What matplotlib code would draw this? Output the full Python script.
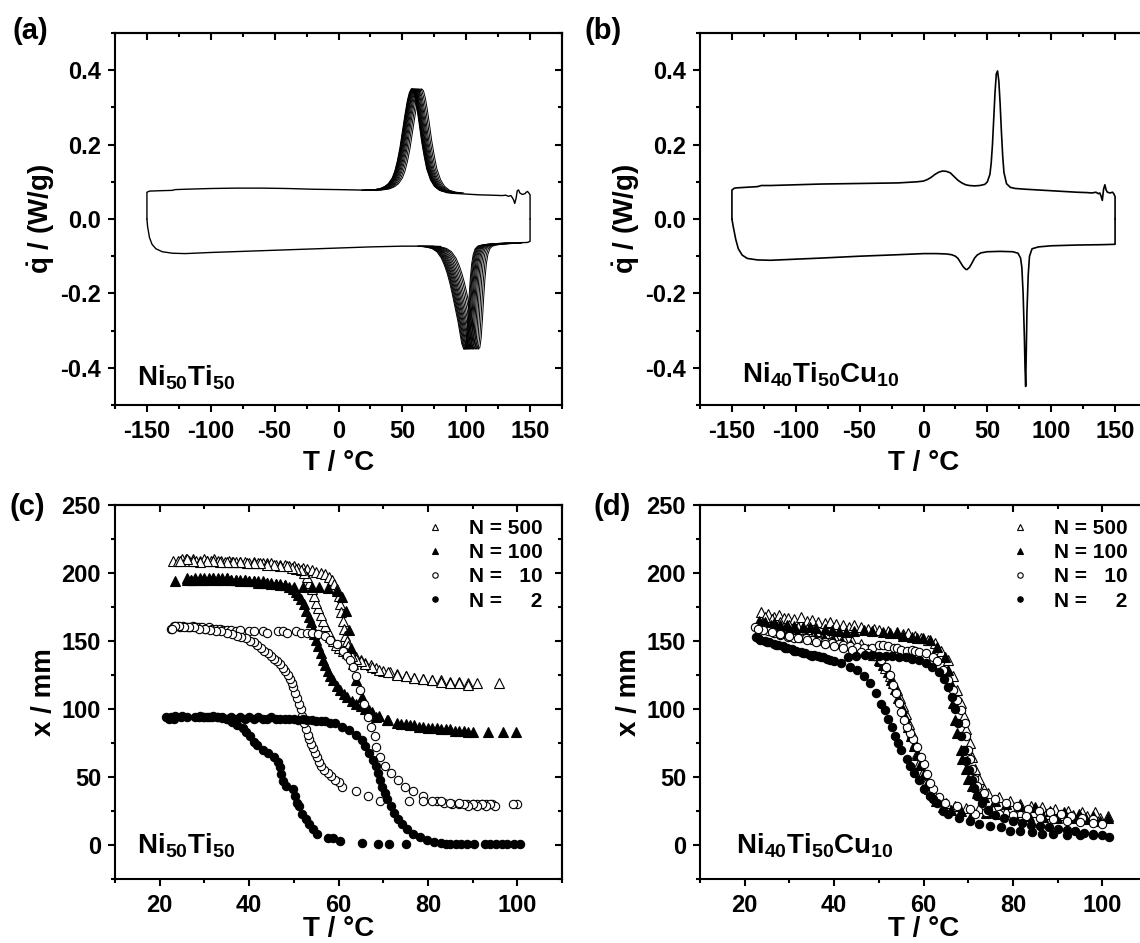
import matplotlib
matplotlib.use('Agg')
import matplotlib.pyplot as plt
from matplotlib.ticker import MultipleLocator, FormatStrFormatter
import numpy as np

plt.rcParams['font.family'] = ['Liberation Sans', 'DejaVu Sans']
plt.rcParams['font.weight'] = 'bold'
plt.rcParams['axes.unicode_minus'] = False
plt.rcParams['mathtext.fontset'] = 'custom'
plt.rcParams['mathtext.rm'] = 'Liberation Sans:bold'
plt.rcParams['mathtext.it'] = 'Liberation Sans:bold'
plt.rcParams['mathtext.bf'] = 'Liberation Sans:bold'

# ---------------- (a) DSC Ni50Ti50, many cycles ----------------
# upper branch (cooling), baseline pieces
a_topL_T = [-150, -150, -148, -140, -130, -128, -120, -100, -80, -60, -40, -20, 0, 15, 30]
a_topL_q = [0.0, 0.072, 0.075, 0.076, 0.077, 0.079, 0.080, 0.082, 0.083, 0.083, 0.082, 0.080, 0.079, 0.078, 0.077]
a_topR_T = [85, 90, 100, 110, 120, 128, 131, 133, 135, 136, 137, 138, 139, 140, 141, 142, 144, 146, 147, 148, 149, 150, 150]
a_topR_q = [0.071, 0.069, 0.067, 0.065, 0.064, 0.063, 0.064, 0.061, 0.063, 0.058, 0.052, 0.042, 0.055, 0.076,
            0.078, 0.070, 0.066, 0.068, 0.072, 0.074, 0.070, 0.065, 0.0]
# exothermic peak of the first cycle, and temperature offset of each later cycle
a_exo_T = [18, 26, 32, 36, 39, 42, 44, 46, 48, 50, 52, 54, 55.5, 57, 58.5, 60, 61.5, 63, 65, 67, 69, 72,
           75, 79, 84, 90]
a_exo_q = [0.077, 0.078, 0.081, 0.087, 0.095, 0.11, 0.128, 0.155, 0.19, 0.235, 0.28, 0.32, 0.34, 0.35,
           0.345, 0.325, 0.295, 0.26, 0.21, 0.17, 0.135, 0.105, 0.088, 0.077, 0.072, 0.070]
a_exo_shift = [0.0, 0.3, 0.6, 0.9, 1.3, 1.7, 2.2, 2.7, 3.3, 4.0, 4.8, 5.7, 6.8, 8.0]

# lower branch (heating), baseline pieces
a_botR_T = [150, 150, 148, 140, 130, 125]
a_botR_q = [0.0, -0.060, -0.063, -0.064, -0.065, -0.066]
a_botL_T = [80, 70, 50, 25, 0, -25, -50, -75, -100, -120, -130, -138, -143, -146, -148, -149.5, -150]
a_botL_q = [-0.074, -0.073, -0.073, -0.075, -0.078, -0.081, -0.084, -0.087, -0.090, -0.093, -0.092,
            -0.088, -0.080, -0.068, -0.050, -0.020, 0.0]
a_endo_T = [132, 124, 116, 112, 109, 107, 105.5, 104.3, 103.2, 102.2, 101.2, 100.2, 99.2, 98, 96.5, 95,
            93.5, 92, 90.5, 89, 87, 85, 83, 80.5, 77, 73, 68, 62]
a_endo_q = [-0.065, -0.066, -0.068, -0.070, -0.073, -0.08, -0.095, -0.12, -0.16, -0.21, -0.27, -0.32,
            -0.345, -0.35, -0.335, -0.305, -0.275, -0.25, -0.225, -0.2, -0.17, -0.145, -0.125, -0.105,
            -0.088, -0.079, -0.075, -0.073]
a_endo_shift = [0.0, 0.6, 1.2, 1.8, 2.5, 3.2, 4.0, 4.8, 5.7, 6.7, 7.8, 9.0, 10.3, 11.5]

# ---------------- (b) DSC Ni40Ti50Cu10 ----------------
b_top_T = [-150, -150, -148, -145, -140, -130, -127, -120, -100, -80, -60, -40, -20, -10, -5, 0, 3, 6, 9,
           12, 15, 18, 21, 24, 27, 30, 33, 36, 40, 44, 48, 50, 52, 53, 54, 55, 56, 57, 58, 59, 60, 61, 62,
           63, 65, 68, 72, 80, 90, 100, 110, 120, 128, 132, 135, 137, 138, 139, 140, 141, 142, 143, 144,
           146, 148, 149, 150, 150]
b_top_q = [0.0, 0.078, 0.083, 0.084, 0.085, 0.087, 0.090, 0.090, 0.092, 0.094, 0.095, 0.096, 0.097,
           0.099, 0.100, 0.102, 0.106, 0.112, 0.120, 0.126, 0.129, 0.128, 0.124, 0.114, 0.104, 0.097,
           0.092, 0.090, 0.089, 0.090, 0.093, 0.100, 0.120, 0.150, 0.200, 0.270, 0.340, 0.390, 0.398,
           0.370, 0.310, 0.235, 0.170, 0.125, 0.095, 0.085, 0.082, 0.080, 0.078, 0.076, 0.074, 0.072,
           0.071, 0.070, 0.072, 0.068, 0.070, 0.062, 0.050, 0.080, 0.092, 0.078, 0.072, 0.070, 0.072,
           0.068, 0.060, 0.0]
b_bot_T = [150, 150, 140, 120, 100, 90, 85, 83, 82, 81, 80.5, 80, 79.5, 79, 78, 77, 76, 74, 70, 60, 50,
           45, 42, 40, 38, 36, 34, 33, 31, 29, 27, 25, 22, 18, 10, 0, -20, -50, -80, -100, -120, -130,
           -138, -142, -145, -147, -149, -150]
b_bot_q = [0.0, -0.068, -0.069, -0.070, -0.072, -0.075, -0.080, -0.10, -0.15, -0.25, -0.35, -0.45, -0.40,
           -0.32, -0.20, -0.13, -0.105, -0.092, -0.088, -0.087, -0.088, -0.091, -0.097, -0.105, -0.118,
           -0.130, -0.136, -0.135, -0.128, -0.117, -0.106, -0.100, -0.096, -0.094, -0.093, -0.093,
           -0.096, -0.100, -0.105, -0.108, -0.111, -0.110, -0.106, -0.097, -0.080, -0.055, -0.020, 0.0]

# ---------------- (c) Ni50Ti50 displacement vs temperature ----------------
c500_T = [23, 24, 25, 25.8, 26.6, 27.4, 28.2, 29, 29.8, 30.6, 31.4, 32.2, 33, 33.8, 34.6, 35.4, 36.2, 37,
          38, 39, 40, 41, 42, 43, 44, 45, 46, 47, 48, 49, 50, 51, 52, 53, 54, 55, 56, 57, 57.8, 58.5,
          59.1, 59.6, 60, 60.3, 60.6, 60.9, 61.2, 61.5, 61.8, 62.2, 62.7, 63.3, 64, 65, 66, 67.2, 68.5,
          70, 71.5, 73, 75, 77, 79, 81, 83, 85, 87, 89, 91, 96,
          89, 87, 85, 83, 81, 79, 77, 75, 73, 71, 69, 67.5, 66, 65, 64, 63, 62, 61, 60.2, 59.5, 58.8,
          58.2, 57.6, 57, 56.5, 56, 55.5, 55, 54.5, 54, 53.5, 53, 52.3, 51.5, 50.5, 49.5, 48.5, 47,
          45.5, 44, 42.5, 41, 39.5, 38, 36.5, 35, 33.5, 32, 30.5, 29, 27.5, 26, 24.5]
c500_x = [209, 209, 210, 210, 209, 210, 209, 209, 210, 209, 209, 210, 209, 209, 208, 209, 208, 208,
          208, 208, 207, 208, 207, 207, 207, 207, 206, 206, 206, 205, 205, 204, 204, 203, 202, 201,
          200, 199, 197, 195, 192, 188, 183, 177, 171, 165, 159, 154, 150, 146, 143, 140, 138, 136,
          134, 132, 130, 128, 127, 126, 124, 123, 122, 121, 121, 120, 120, 119, 119, 119,
          118, 119, 119, 120, 121, 122, 123, 124, 125, 127, 129, 131, 133, 135, 137, 139, 141, 143,
          145, 147, 150, 153, 157, 161, 165, 169, 174, 178, 183, 188, 193, 197, 200, 202, 203, 204,
          205, 205, 206, 206, 207, 207, 207, 208, 208, 208, 208, 209, 209, 208, 209, 210, 209]
c100_T = [23.5, 26, 27, 28, 29, 30, 31, 32, 33, 34, 35, 36, 37, 38, 39, 40, 41, 42, 43, 44, 45, 46, 47,
          48, 50, 52, 54, 55.6, 57.6, 59.6, 60.8, 61.6, 62.4, 62.8, 63.2, 64, 65.2, 66.9, 68.5, 70.9,
          74, 76, 78, 80, 82, 84, 86, 88, 90, 93.5, 96.8, 99.7,
          89, 87, 85, 83, 81, 79, 77, 75, 73, 71, 69, 67.5, 66, 65, 64, 63, 62, 61.2, 60.4, 59.6, 58.8,
          58.2, 57.6, 57, 56.5, 56, 55.5, 55, 54.6, 54.2, 53.8, 53.3, 52.8, 52.3, 51.7, 51, 50.4, 49.8,
          49, 48, 47, 46, 45, 44, 43, 42, 41, 40, 39, 38, 37, 36, 35, 34, 33, 32, 31, 30, 29, 28, 27, 26]
c100_x = [194, 195, 195, 196, 195, 196, 195, 196, 195, 195, 196, 195, 195, 194, 195, 194, 194, 193,
          194, 193, 193, 192, 192, 191, 190, 190, 190, 190, 189, 187, 182, 172, 158, 145, 133, 121,
          109, 99, 94, 92, 89, 88, 87, 86, 86, 85, 84, 84, 83, 83, 83, 83,
          83, 84, 85, 85, 86, 87, 88, 89, 90, 92, 95, 98, 100, 102, 104, 106, 109, 111, 114, 117, 121,
          124, 128, 132, 136, 141, 146, 151, 155, 159, 164, 168, 172, 177, 181, 184, 186, 188, 190,
          191, 191, 192, 192, 193, 193, 194, 194, 194, 195, 195, 195, 195, 196, 196, 196, 196, 196,
          195, 196, 195, 195, 196]
c10_T = [22.5, 23.2, 23.9, 24.6, 25.3, 26, 26.7, 27.4, 28.1, 28.8, 29.5, 30.2, 31, 31.8, 32.6, 33.4,
         34.2, 35, 36, 37, 38, 40, 41, 43, 44, 46.5, 47.5, 48.5, 50.5, 51.5, 53, 54, 55.5, 57, 58.2,
         59.6, 61, 62, 62.6, 63.2, 64, 64.8, 65.7, 66.5, 67.3, 68.1, 68.5, 69.3, 70.5, 71.7, 73.3,
         74.9, 76.6, 79, 82, 83.5, 85.5, 87, 88.7, 90, 91, 92, 93, 94.3, 100,
         99, 95, 94, 93, 92, 91, 90, 89, 88, 87, 85, 83, 81, 79, 75.8, 69.3, 66.5, 64, 60.8, 60, 59.2,
         58.4, 57.6, 56.8, 56, 55.6, 55.2, 54.8, 54.3, 53.9, 53.5, 53.1, 52.7, 52.3, 51.9, 51.5, 51.1,
         50.7, 50.3, 49.9, 49.5, 49.1, 48.7, 48.1, 47.5, 46.9, 46.3, 45.6, 45, 44.2, 43.4, 42.6, 41.8,
         41, 40.2, 39.2, 38.2, 37.2, 36.2, 35, 33.7, 32.5, 31.3, 30.1, 28.9, 27.7, 26.5, 25.4, 24.4,
         23.5, 22.8]
c10_x = [159, 161, 161, 160, 161, 160, 160, 161, 160, 160, 160, 159, 160, 159, 159, 159, 158, 158, 158,
         157, 158, 157, 157, 157, 156, 157, 157, 156, 157, 156, 156, 156, 155, 154, 151, 148, 143, 139,
         136, 131, 124, 114, 104, 94, 87, 80, 72, 65, 58, 53, 48, 43, 40, 36, 32, 31, 30, 30, 30, 30,
         30, 30, 30, 30, 30,
         30, 29, 30, 29, 30, 29, 30, 29, 30, 31, 31, 32, 32, 32, 32, 32, 36, 40, 43, 46, 48, 51, 53, 55,
         58, 61, 65, 68, 71, 74, 78, 81, 85, 90, 95, 100, 104, 108, 112, 116, 119, 122, 125, 128, 130,
         133, 135, 137, 139, 141, 143, 145, 147, 149, 150, 152, 153, 154, 155, 156, 157, 157, 158, 159,
         159, 160, 160, 160, 161, 161, 159]
c2_T = [21.5, 22.5, 23.5, 25, 28, 29, 30, 31, 32, 33, 34, 35, 36, 37, 38, 39, 40, 41, 42, 43, 44, 45,
        46, 47, 48, 49, 50, 51, 52, 53, 54, 55, 56, 57, 58, 59.2, 60.8, 62.4, 64, 65.2, 66, 66.9, 67.7,
        68.5, 68.9, 69.3, 69.7, 70.5, 70.9, 71.7, 72.5, 73.3, 74.1, 75.4, 76.6, 78.2, 79.8, 81.4, 83,
        84, 85, 86.3, 87.5, 88.7, 90.3, 92.7, 94, 95.3, 96.5, 97.7, 99.2, 100.5,
        75, 71.3, 68.9, 65.3, 60.4, 58.8, 57.6, 55.2, 54.3, 53.5, 52.7, 51.9, 51.1, 50.7, 50.3, 49.9,
        48.3, 47.5, 47.2, 46.9, 46.5, 45.5, 44.2, 43, 41.8, 41, 40.2, 39.4, 38.6, 37.4, 36.2, 35, 33.9,
        32.9, 31.7, 30.5, 29.7, 28.9, 26, 24.8, 23.2, 22]
c2_x = [94, 94, 95, 95, 94, 95, 94, 94, 95, 94, 94, 93, 94, 93, 94, 93, 94, 93, 94, 93, 93, 94, 93, 93,
        93, 93, 93, 92, 93, 92, 92, 91, 91, 91, 90, 89.5, 87, 84.6, 81, 77, 72.5, 67.6, 62.7, 58, 53,
        48, 43, 38.4, 33.6, 28.7, 23.8, 19, 15.3, 11.7, 8, 5.6, 3.9, 2.4, 1.5, 1, 1, 0.7, 0.7, 0.7,
        0.7, 0.7, 0.7, 0.7, 0.7, 0.7, 0.7, 0.7,
        0.7, 0.7, 0.7, 1.5, 3.2, 5, 5, 8, 11.7, 15.3, 19, 22.6, 28.7, 31, 36, 40.9, 43.3, 47, 52, 57,
        61, 65, 67.6, 70, 73.7, 76, 79.8, 83.4, 86, 88.3, 90.7, 92.4, 93.5, 93.9, 94.2, 94.4, 94.4,
        94.4, 94, 94, 93, 93]

# ---------------- (d) Ni40Ti50Cu10 displacement vs temperature ----------------
d500_T = [23.7, 25.3, 26.5, 27.7, 28.7, 29.7, 31, 32.6, 34, 35, 36.5, 38, 39.1, 40.5, 42, 43.3, 44.4, 46,
          47.5, 49, 50.1, 52, 54, 55.5, 56.6, 58, 59.4, 61, 62.6, 64, 65.5, 66.7, 67.5, 68.3, 69.1,
          69.6, 70.4, 70.8, 71.6, 72.4, 73.6, 74.4, 76.9, 79.3, 81.7, 84, 86.6, 89.5, 92.3, 95.5,
          98.4, 101.2,
          99.5, 96.5, 93.5, 90.5, 87.5, 84.5, 81.5, 78.5, 75.5, 72.5, 69.5, 67, 65, 63.5, 62.2, 61.2,
          60.3, 59.6, 59, 58.5, 58, 57.4, 56.8, 56.1, 55.4, 54.7, 54, 53.2, 52.4, 51.4, 50.3, 49, 47.5,
          46, 44, 42, 40, 38, 36, 34, 32, 30, 28, 26, 24.5]
d500_x = [171.5, 169.8, 168, 169, 167, 166.6, 166, 167.8, 165, 165.4, 164, 163, 164, 162.5, 162, 160,
          161.7, 160, 159, 158.5, 158, 157, 156.5, 155, 155.6, 154, 152, 150.5, 148.3, 143, 136, 124,
          114, 104.4, 94.6, 85, 75, 65, 55.6, 48.3, 41, 38.5, 35, 32.4, 30, 28.5, 27.6, 26.3, 25, 24,
          24, 21.5,
          20, 21, 22, 22, 23, 24, 24, 25, 26, 27, 27, 29, 31, 34, 38, 41, 45, 52, 60, 68, 75, 82, 89,
          96, 102, 108, 114, 119, 124, 130, 135, 140, 144, 148, 150, 152, 154, 156, 157, 159, 160,
          162, 164, 166, 168]
d100_T = [23.2, 24.5, 26.5, 28, 29.5, 31, 33, 34.5, 36, 37.9, 39.5, 41, 42.7, 44.5, 46.8, 48.5, 50.9,
          52.5, 54.1, 55.5, 57.4, 58.6, 59.8, 61.4, 63, 64.7, 65.5, 66.3, 66.7, 67.1, 67.5, 68.3, 68.7,
          69.6, 70, 70.8, 72, 73.6, 76, 78.5, 81.7, 84.9, 88.2, 91.5, 94.7, 98, 101.2,
          99.5, 96.3, 93.1, 89.9, 86.7, 83.5, 80.3, 77.1, 73.9, 71, 68.5, 66.2, 64.3, 62.8, 61.7, 60.8,
          60, 59.3, 58.6, 57.9, 57.2, 56.5, 55.8, 55.1, 54.4, 53.6, 52.8, 52, 51, 50, 48.7, 47.2, 45.5,
          43.7, 41.8, 39.8, 37.8, 35.8, 33.8, 31.8, 29.8, 27.8, 25.8, 24]
d100_x = [165, 164, 163, 162, 162, 161, 160.5, 160, 159.5, 159, 158, 157.5, 156.8, 157, 158, 157,
          156.8, 156, 155.6, 154, 153, 152.5, 152, 150.7, 145.8, 138.5, 128.8, 116.6, 104.4, 92, 82.4,
          70, 63, 55.6, 48.3, 43.4, 38.5, 35, 32.4, 30, 28.8, 27.6, 25, 24, 22.7, 21.5, 20.2,
          18, 19, 19.5, 20, 20.5, 21, 22, 22.5, 23.5, 24, 25, 26, 28, 32, 38, 45, 52, 59, 66, 73, 80,
          87, 94, 101, 108, 115, 121, 127, 132, 136, 140, 143, 145, 147, 149, 150.5, 152, 153, 154.5,
          156, 158, 160, 162, 163.5]
d10_T = [22.4, 24, 25.2, 26.5, 28, 29.7, 31, 32.3, 33.8, 35, 36.5, 37.9, 39.5, 41, 42, 43.5, 45.2, 46.8,
         48.5, 50.1, 51, 52, 53.3, 54.1, 55, 56.2, 57.4, 58.2, 59, 60.6, 62.2, 63, 64.3, 65.5, 66.7,
         67.6, 68.4, 69.2, 69.6, 70, 70.4, 70.8, 71.2, 72, 73.6, 76, 78.5, 80.9, 83.4, 85.8, 88.2,
         90.7, 93.1, 95.5, 98, 100,
         98, 95, 92, 89, 86, 83, 80, 77, 74, 71.6, 70.4, 67.5, 64.7, 63.5, 62.2, 61.4, 60.8, 60.2,
         59.5, 58.5, 57.7, 57, 56.3, 55.7, 55, 54.5, 53.8, 53.2, 52.5, 51.5, 50.5, 49, 47.5, 46, 44,
         42, 40, 38, 36, 34, 32, 30, 28, 26, 24, 23]
d10_x = [160.5, 159, 157, 155.6, 154.5, 153, 152.5, 152, 152, 151, 150, 149.5, 148.5, 147.5, 147,
         146.5, 145.8, 145, 144.6, 147, 147, 146.5, 145, 144.6, 143.4, 143, 143.4, 142.5, 142, 141,
         138.5, 135, 128.8, 121.5, 114, 106.8, 99.5, 89.8, 80, 70, 63, 55.6, 48.3, 43.4, 38.5, 33.6,
         31, 28.8, 26.3, 25, 24, 22.7, 21.5, 20.2, 19, 15.3,
         16, 17, 18, 19, 20, 21, 22, 23, 24, 22.7, 26.3, 28.8, 31, 35, 41, 45.8, 52, 59.3, 65, 72, 78,
         82.4, 87, 92, 98, 104.4, 112, 118, 125, 131, 136, 139, 141, 142, 143.5, 145, 146.5, 148,
         149.5, 151, 152, 153.5, 155, 156.5, 158, 159]
d2_T = [22.5, 23.5, 24.5, 25.5, 26.5, 27.5, 28.5, 29.5, 30.5, 31.5, 32.5, 33.5, 34.5, 35.5, 36.5, 37.5,
        38.5, 40, 43, 45, 47, 48.5, 50, 51.5, 53, 54.5, 56, 57.5, 59, 60.5, 62, 63.5, 64.5, 65.5, 66.3,
        67, 67.7, 68.4, 69, 69.6, 70.2, 70.8, 71.4, 72, 73, 74.5, 76, 78, 80, 82, 84, 86, 88, 90, 92,
        94, 96, 98, 100, 101.5,
        98, 95, 92, 89, 86.6, 84.2, 81.7, 79.3, 77.3, 74.8, 72.5, 70.4, 67.9, 65.5, 64.3, 63, 62.2,
        61.4, 60.2, 59, 57.8, 57, 56.2, 55, 54.3, 53.7, 52.9, 52.1, 51.3, 50.5, 49.3, 48, 46.8, 45.2,
        43.5, 41.5, 39, 37, 35, 33, 31, 29, 27, 25, 23]
d2_x = [153, 151, 150, 149, 148, 147, 146, 145, 144, 143, 142, 141, 140, 139.5, 139, 138, 137, 135.5,
        138, 139, 140, 140, 139, 139, 139, 138, 138, 137, 136, 134, 131, 127, 122, 116, 109, 100, 90,
        80, 70, 62, 55, 48, 42, 36, 31, 26, 22, 20, 18, 16, 15, 14, 13, 12, 11, 10, 9, 8, 7, 6,
        7, 7, 7.5, 8, 8, 9.3, 10.5, 10.5, 13, 14, 15.5, 17.8, 20, 22.7, 25, 31, 33.5, 36, 41, 48, 53,
        58, 63, 70, 75, 80, 87, 93, 99.5, 104, 112, 119, 124, 129, 131, 134, 136, 138, 139, 141, 143,
        145, 147, 149, 152]

legend_labels = ['N = 500', 'N = 100', 'N =   10', 'N =     2']

W, H = 1140, 943
fig = plt.figure(figsize=(W / 100, H / 100), dpi=100)


def box(left, top, width, height):
    return [left / W, 1 - (top + height) / H, width / W, height / H]


ax_a = fig.add_axes(box(115, 33, 447, 372))
ax_b = fig.add_axes(box(700, 33, 447, 372))
ax_c = fig.add_axes(box(115, 505, 447, 374))
ax_d = fig.add_axes(box(700, 505, 447, 374))


def style(ax, xlim, ylim, xmaj, xmin, ymaj, ymin, yfmt=None):
    ax.set_xlim(xlim)
    ax.set_ylim(ylim)
    ax.xaxis.set_major_locator(MultipleLocator(xmaj))
    ax.xaxis.set_minor_locator(MultipleLocator(xmin))
    ax.yaxis.set_major_locator(MultipleLocator(ymaj))
    ax.yaxis.set_minor_locator(MultipleLocator(ymin))
    if yfmt:
        ax.yaxis.set_major_formatter(FormatStrFormatter(yfmt))
    ax.tick_params(which='both', direction='out', width=1.5, labelsize=17, pad=5)
    ax.tick_params(axis='x', pad=6)
    ax.tick_params(which='major', length=5)
    ax.tick_params(which='minor', length=3)
    for sp in ax.spines.values():
        sp.set_linewidth(1.5)
    # mirrored ticks on top/right point inwards
    top = ax.secondary_xaxis('top')
    top.xaxis.set_major_locator(MultipleLocator(xmaj))
    top.xaxis.set_minor_locator(MultipleLocator(xmin))
    top.tick_params(which='both', direction='in', width=1.5, labeltop=False)
    top.tick_params(which='major', length=5)
    top.tick_params(which='minor', length=3)
    top.spines['top'].set_linewidth(1.5)
    right = ax.secondary_yaxis('right')
    right.yaxis.set_major_locator(MultipleLocator(ymaj))
    right.yaxis.set_minor_locator(MultipleLocator(ymin))
    right.tick_params(which='both', direction='in', width=1.5, labelright=False)
    right.tick_params(which='major', length=5)
    right.tick_params(which='minor', length=3)
    right.spines['right'].set_linewidth(1.5)


# (a)
for s in a_exo_shift:
    ax_a.plot(np.array(a_exo_T) + s, a_exo_q, color='black', lw=0.7)
for s in a_endo_shift:
    ax_a.plot(np.array(a_endo_T) + s, a_endo_q, color='black', lw=0.7)
for T, q in [(a_topL_T, a_topL_q), (a_topR_T, a_topR_q), (a_botR_T, a_botR_q), (a_botL_T, a_botL_q)]:
    ax_a.plot(T, q, color='black', lw=1.0)

# (b)
ax_b.plot(b_top_T, b_top_q, color='black', lw=1.2)
ax_b.plot(b_bot_T, b_bot_q, color='black', lw=1.2)

for ax in (ax_a, ax_b):
    style(ax, (-175, 175), (-0.5, 0.5), 50, 25, 0.2, 0.1, '%.1f')
    ax.set_xlabel('T / °C', fontsize=20, fontweight='bold')
    ax.set_ylabel(r'$\dot{q}$ / (W/g)', fontsize=20, fontweight='bold')
    ax.xaxis.set_label_coords(0.5, -0.12)
    ax.yaxis.set_label_coords(-0.13, 0.5)

# (c), (d)
mk = dict(linestyle='none', markeredgecolor='black', markeredgewidth=0.8)
for ax, series in [(ax_c, [(c500_T, c500_x), (c100_T, c100_x), (c10_T, c10_x), (c2_T, c2_x)]),
                   (ax_d, [(d500_T, d500_x), (d100_T, d100_x), (d10_T, d10_x), (d2_T, d2_x)])]:
    styles = [dict(marker='^', markersize=6.5, markerfacecolor='white'),
              dict(marker='^', markersize=6.5, markerfacecolor='black'),
              dict(marker='o', markersize=6, markerfacecolor='white'),
              dict(marker='o', markersize=6, markerfacecolor='black')]
    for (T, x), st, lab in zip(series, styles, legend_labels):
        ax.plot(T, x, label=lab, **st, **mk)
    style(ax, (10, 110), (-25, 250), 20, 10, 50, 25)
    ax.set_xlabel('T / °C', fontsize=20, fontweight='bold')
    ax.set_ylabel('x / mm', fontsize=20, fontweight='bold')
    ax.xaxis.set_label_coords(0.5, -0.1)
    ax.yaxis.set_label_coords(-0.13, 0.5)
    ax.legend(loc='upper right', bbox_to_anchor=(0.975, 0.985), borderaxespad=0, frameon=False,
              fontsize=15, markerscale=0.65, handlelength=1.0, handletextpad=1.1, labelspacing=0.25,
              numpoints=1)

# sample labels
ax_a.text(0.05, 0.073, r'Ni$_{50}$Ti$_{50}$', transform=ax_a.transAxes, fontsize=20, va='center')
ax_b.text(0.094, 0.08, r'Ni$_{40}$Ti$_{50}$Cu$_{10}$', transform=ax_b.transAxes, fontsize=20, va='center')
ax_c.text(0.05, 0.09, r'Ni$_{50}$Ti$_{50}$', transform=ax_c.transAxes, fontsize=20, va='center')
ax_d.text(0.08, 0.09, r'Ni$_{40}$Ti$_{50}$Cu$_{10}$', transform=ax_d.transAxes, fontsize=20, va='center')

# panel letters
for lab, x, y in [('(a)', 30, 31), ('(b)', 603, 31), ('(c)', 27, 507), ('(d)', 612, 507)]:
    fig.text(x / W, 1 - y / H, lab, fontsize=21, fontweight='bold', ha='center', va='center')

fig.savefig('out.png', dpi=100)
